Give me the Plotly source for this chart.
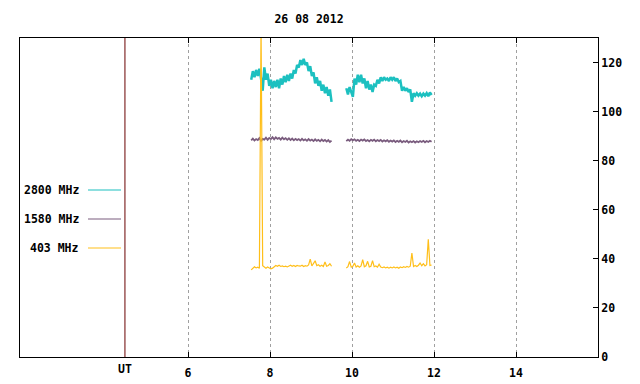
import numpy as np
import plotly.graph_objects as go

# ---- data (hours UT) ----
seg1_start, seg2_start, step = 7.54, 9.86, 0.04

f2800_seg1 = [113, 116.5, 114, 117, 114.5, 117.5, 113.5, 108.5, 118, 113,
              115.5, 110.5, 113, 109.5, 112.5, 110, 113, 109.5, 113.5, 111,
              114.5, 112, 115, 112.5, 115.5, 113.5, 117, 115.5, 119, 118,
              121, 119, 121.5, 119, 120, 116.5, 118.5, 114.5, 116, 111.5,
              114, 110.5, 112.5, 108.5, 111, 107.5, 110, 106.5, 109, 104]
f2800_seg2 = [109.5, 107, 110, 107.5, 106, 113.5, 111, 115, 112, 115,
              111.5, 113.5, 109.5, 112.5, 109, 111, 108, 111, 110.5, 113,
              111.5, 114, 112.5, 114, 113, 113.5, 112.5, 114, 113, 114,
              112.5, 113.5, 112, 112.5, 108.5, 110, 108.5, 109.5, 108, 109,
              104, 107.5, 106.5, 107.5, 106.5, 107.3, 106.3, 107.3, 106.5, 107.5,
              106.3, 107.8, 106.8]

f1580_seg1 = [88.3, 89.0, 88.2, 88.8, 88.4, 89.2, 88.1, 88.9, 88.6, 89.4,
              88.5, 89.3, 88.8, 89.6, 88.7, 89.5, 88.9, 89.3, 88.6, 89.4,
              88.7, 89.2, 88.5, 89.1, 88.4, 89.0, 88.3, 88.9, 88.4, 88.8,
              88.2, 88.9, 88.3, 88.7, 88.1, 88.8, 88.2, 88.6, 88.0, 88.7,
              88.1, 88.5, 87.9, 88.6, 88.0, 88.5, 87.8, 88.4, 87.6, 88.2]
f1580_seg2 = [88.0, 88.6, 88.1, 88.8, 88.3, 88.7, 88.1, 88.5, 88.0, 88.6,
              88.2, 88.7, 88.0, 88.4, 87.9, 88.5, 88.1, 88.6, 87.9, 88.4,
              88.0, 88.5, 87.8, 88.3, 87.9, 88.4, 87.7, 88.2, 87.8, 88.3,
              87.6, 88.1, 87.7, 88.2, 87.5, 88.0, 87.6, 88.1, 87.4, 87.9,
              87.5, 88.0, 87.4, 87.9, 87.5, 88.0, 87.6, 88.1, 87.5, 88.0,
              87.6, 88.1, 87.7]

f403_seg1 = [35.5, 36.2, 36.8, 36.3, 36.6, 36.2, 135, 37.2, 36.6, 36.2,
             36.7, 36.4, 35.9, 36.2, 36.8, 37.3, 37.0, 37.4, 36.9, 37.1,
             36.8, 37.0, 36.7, 37.2, 37.4, 37.0, 37.3, 36.9, 37.3, 37.1,
             37.0, 37.4, 36.9, 37.2, 37.0, 37.5, 39.9, 37.1, 38.0, 39.2,
             37.2, 37.6, 37.0, 37.4, 36.9, 38.7, 37.0, 37.3, 38.0, 37.0]
f403_seg2 = [36.3, 36.8, 38.9, 36.6, 37.0, 38.3, 36.7, 37.2, 36.6, 37.1,
             39.7, 36.8, 37.2, 39.0, 36.7, 37.0, 39.3, 36.8, 37.1, 36.6,
             37.8, 36.7, 36.4, 36.7, 36.3, 36.6, 36.2, 36.6, 36.3, 36.7,
             36.3, 36.6, 36.2, 36.7, 36.4, 36.8, 36.5, 36.9, 36.6, 37.0,
             42.4, 36.9, 37.3, 36.9, 37.4, 38.3, 37.2, 38.0, 37.1, 37.6,
             48.0, 37.3, 37.5]

series_names = ["2800 MHz", "1580 MHz", "403 MHz"]
series_colors = ["#1cc0c0", "#7a5c7e", "#ffbf1a"]
series_widths = [2.5, 1.8, 1.2]
x_tickvals = [6, 8, 10, 12, 14]
x_ticktext = ["6", "8", "10", "12", "14"]
y_tickvals = [0, 20, 40, 60, 80, 100, 120]
ut_hour = 4.46
title_text = "26 08 2012"

t1 = np.round(seg1_start + step * np.arange(len(f2800_seg1)), 3)
t2 = np.round(seg2_start + step * np.arange(len(f2800_seg2)), 3)

def joined(a, b):
    return list(t1) + [None] + list(t2), list(a) + [None] + list(b)

FONT = dict(family="DejaVu Sans Mono", size=11.5, color="black", weight="bold")

fig = go.Figure()
for name, col, w, (s1, s2) in zip(series_names, series_colors, series_widths,
                                  [(f2800_seg1, f2800_seg2), (f1580_seg1, f1580_seg2),
                                   (f403_seg1, f403_seg2)]):
    xs, ys = joined(s1, s2)
    fig.add_trace(go.Scatter(x=xs, y=ys, mode="lines", name=name,
                             line=dict(color=col, width=w),
                             connectgaps=False, showlegend=False))

plot_l, plot_r, plot_t, plot_b = 20, 598, 38, 357
W, H = 640, 384
def px(x):
    return (x - plot_l) / (plot_r - plot_l)
def py(y):
    return (plot_b - y) / (plot_b - plot_t)

# UT marker line
fig.add_shape(type="line", xref="x", yref="paper", x0=ut_hour, x1=ut_hour,
              y0=0, y1=1, line=dict(color="#6a0000", width=1))
fig.add_annotation(x=ut_hour, xref="x", y=py(369), yref="paper", text="UT",
                   showarrow=False, font=FONT, yanchor="middle")

# custom legend at left
for i, (name, col) in enumerate(zip(series_names, series_colors)):
    yy = 190 + 29 * i
    fig.add_annotation(x=px(81), xref="paper", y=py(yy), yref="paper", text=name,
                       showarrow=False, xanchor="right", yanchor="middle", font=FONT)
    fig.add_shape(type="line", xref="paper", yref="paper", x0=px(88), x1=px(121),
                  y0=py(yy), y1=py(yy), line=dict(color=col, width=1.2))

fig.update_layout(
    width=W, height=H,
    margin=dict(l=plot_l, r=W - plot_r, t=plot_t, b=H - plot_b, autoexpand=False),
    paper_bgcolor="white", plot_bgcolor="white",
    title=dict(text=title_text, x=309 / W, xanchor="center", y=1 - 19 / H,
               yanchor="middle", font=FONT),
    font=FONT,
)
fig.update_xaxes(range=[1.9, 16.0], tickvals=x_tickvals, ticktext=x_ticktext,
                 showgrid=True, gridcolor="#a0a0a0", griddash="dot", gridwidth=1,
                 showline=True, linecolor="black", linewidth=1, mirror="ticks",
                 ticks="inside", ticklen=5, tickcolor="black", automargin=False,
                 ticklabelstandoff=5, zeroline=False, tickfont=FONT)
fig.update_yaxes(range=[0, 130], tickvals=y_tickvals, side="right",
                 showgrid=False, showline=True, linecolor="black", linewidth=1,
                 mirror=True, ticks="inside", ticklen=5, tickcolor="black",
                 automargin=False, zeroline=False, tickfont=FONT)

fig.write_html("out.html", config={"displayModeBar": False},
               post_script="document.body.style.margin='0';")
